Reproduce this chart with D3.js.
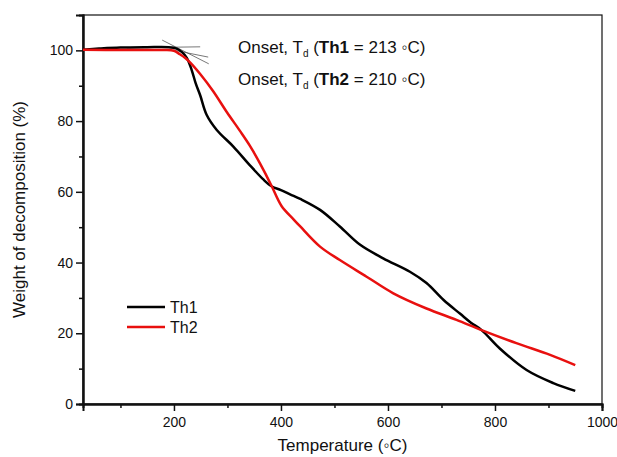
<!DOCTYPE html>
<html>
<head>
<meta charset="utf-8">
<script src="https://cdn.jsdelivr.net/npm/d3@7"></script>
<style>
  body { margin: 0; background: #fff; }
  text { font-family: "Liberation Sans", Arial, sans-serif; fill: #111; }
</style>
</head>
<body>
<div id="chart"></div>
<script>
const width = 617;
const height = 457;
const margin = { top: 15, right: 15, bottom: 53, left: 83 };

// Th1 TGA curve
const th1Temp = [30, 60, 100, 150, 190, 205, 215, 224, 233, 241, 249, 261, 280, 311, 342, 367, 383, 400, 417, 436, 473, 510, 548, 591, 641, 672, 704, 735, 755, 775, 809, 859, 909, 950];
const th1Weight = [100.2, 100.5, 100.8, 100.9, 100.9, 100.5, 99.5, 97.9, 94.5, 90.5, 87.3, 81.8, 77.5, 72.8, 67.5, 63.5, 61.5, 60.5, 59.3, 58.0, 54.9, 50.2, 45.0, 41.2, 37.4, 34.2, 29.4, 25.5, 23.0, 20.9, 15.7, 9.6, 5.9, 3.7];

// Th2 TGA curve
const th2Temp = [30, 100, 180, 200, 211, 220, 230, 249, 273, 299, 323, 342, 361, 373, 383, 401, 423, 436, 473, 510, 560, 610, 672, 728, 775, 840, 903, 950];
const th2Weight = [100.2, 100.1, 100.1, 99.9, 98.9, 98.0, 96.6, 93.3, 88.5, 82.5, 77.3, 73.0, 68.0, 64.5, 61.5, 56.0, 52.3, 50.2, 44.5, 40.7, 36.0, 31.3, 27.0, 23.8, 20.9, 17.2, 13.9, 11.0];

// onset tangent construction lines [[t1, w1], [t2, w2]]
const tangents = [
  [[178, 102.9], [265, 96.2]],
  [[112, 100.7], [249, 101.0]],
  [[198, 100.1], [264, 98.1]]
];

const xTicks = [200, 400, 600, 800, 1000];
const xMinor = [100, 300, 500, 700, 900];
const yTicks = [0, 20, 40, 60, 80, 100];
const yMinor = [10, 30, 50, 70, 90];

const series = [
  { name: 'Th1', color: '#000000', temp: th1Temp, weight: th1Weight },
  { name: 'Th2', color: '#e8100f', temp: th2Temp, weight: th2Weight }
];

const onsetNotes = [
  { sample: 'Th1', value: 213 },
  { sample: 'Th2', value: 210 }
];

const svg = d3.select('#chart').append('svg').attr('width', width).attr('height', height);

const x = d3.scaleLinear().domain([30, 1000]).range([margin.left, width - margin.right]);
const y = d3.scaleLinear().domain([0, 110]).range([height - margin.bottom, margin.top]);

// frame
svg.append('rect')
  .attr('x', margin.left).attr('y', margin.top)
  .attr('width', x(1000) - x(30)).attr('height', y(0) - y(110))
  .attr('fill', 'none').attr('stroke', '#111').attr('stroke-width', 1.2);

svg.append('g').attr('transform', `translate(0, ${y(0)})`)
  .call(d3.axisBottom(x).tickValues(xTicks).tickSize(7).tickPadding(6).tickFormat(d3.format('d')));
svg.append('g').attr('transform', `translate(0, ${y(0)})`)
  .call(d3.axisBottom(x).tickValues(xMinor).tickSize(4).tickFormat(''));
svg.append('g').attr('transform', `translate(${x(30)}, 0)`)
  .call(d3.axisLeft(y).tickValues(yTicks).tickSize(7).tickPadding(3));
svg.append('g').attr('transform', `translate(${x(30)}, 0)`)
  .call(d3.axisLeft(y).tickValues(yMinor).tickSize(4).tickFormat(''));

svg.selectAll('.domain').attr('stroke', '#111').attr('stroke-width', 2);
svg.selectAll('.tick line').attr('stroke', '#111').attr('stroke-width', 1.5);
svg.selectAll('.tick text').style('font-size', '14px').attr('fill', '#111');

// axis titles
svg.append('text')
  .attr('x', (x(30) + x(1000)) / 2)
  .attr('y', height - 6)
  .attr('text-anchor', 'middle')
  .style('font-size', '17px')
  .text('Temperature (\u25E6C)');

svg.append('text')
  .attr('transform', 'rotate(-90)')
  .attr('x', -(y(0) + y(110)) / 2)
  .attr('y', 25)
  .attr('text-anchor', 'middle')
  .style('font-size', '17px')
  .text('Weight of decomposition (%)');

// tangent lines
tangents.forEach((t) => {
  svg.append('line')
    .attr('x1', x(t[0][0])).attr('y1', y(t[0][1]))
    .attr('x2', x(t[1][0])).attr('y2', y(t[1][1]))
    .attr('stroke', '#555').attr('stroke-width', 0.8);
});

// curves
const line = d3.line()
  .x((d) => x(d[0]))
  .y((d) => y(d[1]))
  .curve(d3.curveCatmullRom.alpha(0.5));

series.forEach((s) => {
  svg.append('path')
    .datum(s.temp.map((t, i) => [t, s.weight[i]]))
    .attr('fill', 'none')
    .attr('stroke', s.color)
    .attr('stroke-width', 2.5)
    .attr('stroke-linejoin', 'round')
    .attr('d', line);
});

// onset annotations
onsetNotes.forEach((n, i) => {
  const t = svg.append('text')
    .attr('x', 238)
    .attr('y', 53 + i * 32)
    .style('font-size', '17px');
  t.append('tspan').text('Onset, T');
  t.append('tspan').attr('dy', 4).style('font-size', '10px').text('d');
  t.append('tspan').attr('dy', -4).text(' (');
  t.append('tspan').style('font-weight', 'bold').text(n.sample);
  t.append('tspan').text(` = ${n.value} \u25E6C)`);
});

// legend
series.forEach((s, i) => {
  const ly = 307 + i * 20;
  svg.append('line')
    .attr('x1', 127).attr('x2', 165)
    .attr('y1', ly).attr('y2', ly)
    .attr('stroke', s.color).attr('stroke-width', 2.5);
  svg.append('text')
    .attr('x', 170).attr('y', ly + 6)
    .style('font-size', '16px')
    .text(s.name);
});
</script>
</body>
</html>
